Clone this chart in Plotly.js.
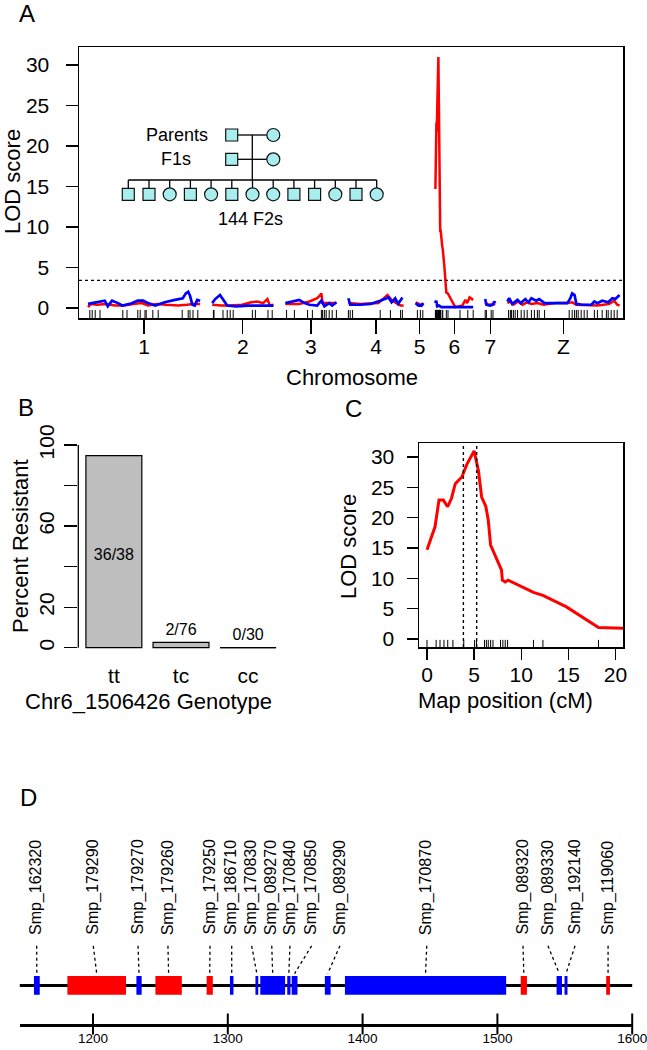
<!DOCTYPE html>
<html><head><meta charset="utf-8">
<script src="https://cdn.plot.ly/plotly-3.0.1.min.js"></script>
<style>html,body{margin:0;padding:0;background:#fff}#chart{width:647px;height:1050px}</style>
</head><body><div id="chart"></div>
<script>
// ---------------- Panel A data ----------------
const chrNames = ['1','2','3','4','5','6','7','Z'];
const chrLengths = [187,102,85,92,13,63,17,187];
const chrGap = 20;
const lodThreshold = 3.4;

const chr1Red = [[0,0.1],[5,0.5],[15,0.4],[30,0.5],[45,0.3],[60,0.3],[75,0.5],[90,0.6],[100,0.3],[115,0.5],[130,0.4],[150,0.3],[165,0.4],[175,0.5],[187,0.5]];
const chr1Blue = [[0,0.5],[7,0.6],[20,0.8],[28,0.9],[33,0.2],[40,0.9],[50,0.6],[57,0.3],[70,0.5],[83,0.9],[92,0.9],[100,0.6],[112,0.3],[128,0.7],[145,1.0],[158,1.2],[163,1.8],[167,2.0],[170,1.5],[174,0.4],[178,0.3],[182,1.0],[187,0.9]];
const chr2Red = [[0,0.4],[15,0.3],[30,0.3],[50,0.4],[65,0.7],[75,0.8],[85,0.6],[92,1.1],[96,0.3],[102,0.4]];
const chr2Blue = [[0,0.6],[5,1.1],[13,1.6],[18,1.0],[25,0.3],[40,0.2],[60,0.3],[80,0.3],[95,0.3],[102,0.3]];
const chr3Red = [[0,0.5],[23,0.5],[40,0.8],[53,1.2],[58,1.6],[60,1.8],[62,0.6],[73,0.6],[85,0.6]];
const chr3Blue = [[0,0.6],[15,0.8],[23,1.0],[32,0.6],[40,0.4],[53,0.3],[60,0.9],[65,0.2],[73,0.6],[78,0.3],[85,0.7]];
const chr4Red = [[0,0.6],[20,0.5],[50,0.6],[65,1.6],[73,0.9],[87,0.3],[92,0.3]];
const chr4Blue = [[0,1.2],[3,0.4],[20,0.4],[37,0.5],[53,0.9],[67,1.3],[72,0.7],[78,1.2],[83,0.5],[90,1.3]];
const chr5Red = [[0,0.7],[8,0.4],[13,0.5]];
const chr5Blue = [[0,0.6],[5,0.3],[10,0.3],[13,0.6]];
const chr6Red = [[0,14.7],[0.85,18.5],[1.27,22.9],[1.73,22.9],[2.19,21.8],[2.6,23.2],[3.0,25.6],[3.7,26.7],[4.2,28.7],[5.0,31.0],[5.45,27.8],[5.8,23.4],[6.25,21.8],[6.5,19.6],[6.75,15.5],[7.4,13.0],[7.9,11.4],[8.0,9.7],[8.3,9.4],[8.6,9.7],[11.3,7.7],[12.3,7.2],[14.8,5.3],[18.2,1.9],[20.75,1.8],[25,1.2],[33,0.1],[45,0.3],[50,1.0],[53,0.6],[57,1.3],[63,1.0]];
const chr6Blue = [[0,0.6],[1,0.9],[2,0.7],[3,0.2],[6,0.3],[10,0.1],[30,0.1],[63,0.1]];
const chr7Red = [[0,0.7],[5,0.4],[17,0.5]];
const chr7Blue = [[0,1.1],[2,0.4],[8,0.3],[13,0.4],[15,0.8],[17,0.6]];
const chrZRed = [[0,0.6],[5,0.8],[10,0.4],[18,0.8],[25,0.4],[33,0.7],[40,0.5],[50,0.6],[60,0.4],[80,0.6],[100,0.6],[108,0.7],[115,0.4],[135,0.3],[150,0.3],[160,0.4],[170,0.5],[178,0.9],[183,0.4],[187,0.3]];
const chrZBlue = [[0,0.8],[3,1.2],[8,0.5],[12,0.7],[17,1.0],[22,0.6],[30,1.1],[35,0.7],[40,1.2],[48,0.9],[53,1.1],[62,0.6],[75,0.6],[100,0.6],[105,1.2],[108,1.8],[112,1.6],[115,0.5],[125,0.4],[140,0.4],[145,0.8],[150,0.6],[158,0.9],[168,0.7],[175,1.2],[180,1.1],[187,1.6]];

const markers1 = [3,7,12,20,58,65,83,87,95,97,108,117,157,167,170,175,183];
const markers2 = [2,3,18,25,30,35,67,72,93,100];
const markers3 = [2,15,37,45,60,62,65,68,73,78,85];
const markers4 = [0,3,7,53,70,87,90];
const markers5 = [3,8,12];
const markers6 = [0,0.97,1.38,1.8,2.2,2.75,3.9,5.05,5.25,6.1,6.3,6.5,6.75,7.0,7.8,8.05,8.3,8.55,11.3,12.3,18.2,21,41,54,63];
const markers7 = [0,2,10,13];
const markersZ = [2,5,7,10,13,17,23,28,33,40,45,50,53,62,103,108,112,115,118,123,128,133,145,150,158,165,168,173,178,183];

const offspringSex = ['m','m','f','m','f','m','f','f','m','m','f','m','f'];

// ---------------- Panel B data ----------------
const genotypes = ['tt','tc','cc'];
const resistantCounts = [36,2,0];
const totalCounts = [38,76,30];

// ---------------- Panel C data ----------------
const ciBounds = [3.86,5.27];

// ---------------- Panel D data ----------------
const geneNames = ['Smp_162320','Smp_179290','Smp_179270','Smp_179260','Smp_179250','Smp_186710','Smp_170830','Smp_089270','Smp_170840','Smp_170850','Smp_089290','Smp_170870','Smp_089320','Smp_089330','Smp_192140','Smp_119060'];
const geneStart = [1156.2,1181.0,1232.2,1246.3,1284.3,1301.6,1320.5,1324.1,1344.1,1347.4,1372.0,1386.9,1517.3,1543.9,1549.8,1580.7];
const geneEnd   = [1160.5,1224.5,1236.1,1265.9,1288.9,1304.2,1322.6,1342.5,1346.5,1351.7,1376.3,1506.5,1521.9,1547.9,1552.0,1583.5];
const geneStrand = ['-','+','-','+','+','-','-','-','-','-','-','-','+','-','-','+'];
const labelKb = [1158.2,1200.2,1233.4,1255.6,1286.8,1302.9,1317.7,1332.6,1346.1,1362.2,1383.2,1447.6,1519.0,1537.5,1557.6,1582.1];
const regionKb = [1145.7,1600];
const kbTicks = [1200,1300,1400,1500,1600];

// ---------------- helpers / layout constants ----------------
const W = 647, H = 1050;
const FONT = 'Liberation Sans, Arial, Helvetica, sans-serif';
const px = p => p / W, py = p => 1 - p / H;
const RED = '#ff0000', BLUE = '#0000ff', CYAN = '#a8eeee';

const chrStart = []; let acc = 0;
chrLengths.forEach(L => { chrStart.push(acc); acc += L + chrGap; });
const chrMid = chrStart.map((s, i) => s + chrLengths[i] / 2);

function genome(list) {
  const x = [], y = [];
  list.forEach((pts, i) => { pts.forEach(([p, l]) => { x.push(chrStart[i] + p); y.push(l); }); x.push(null); y.push(null); });
  return {x, y};
}
const redG = genome([chr1Red,chr2Red,chr3Red,chr4Red,chr5Red,chr6Red,chr7Red,chrZRed]);
const blueG = genome([chr1Blue,chr2Blue,chr3Blue,chr4Blue,chr5Blue,chr6Blue,chr7Blue,chrZBlue]);
const rugX = [];
[markers1,markers2,markers3,markers4,markers5,markers6,markers7,markersZ].forEach((m, i) => m.forEach(p => rugX.push(chrStart[i] + p)));

const traces = [];
traces.push({type:'scatter', mode:'lines', x:redG.x, y:redG.y, xaxis:'x', yaxis:'y', line:{color:RED, width:2.5}, connectgaps:false, hoverinfo:'skip'});
traces.push({type:'scatter', mode:'lines', x:blueG.x, y:blueG.y, xaxis:'x', yaxis:'y', line:{color:BLUE, width:2.7}, connectgaps:false, hoverinfo:'skip'});
traces.push({type:'scatter', mode:'markers', x:rugX, y:rugX.map(() => -0.85), xaxis:'x', yaxis:'y', marker:{symbol:'line-ns-open', size:7, color:'#000', line:{color:'#000', width:1}}, cliponaxis:false, hoverinfo:'skip'});

// Panel B
const pct = resistantCounts.map((c, i) => c / totalCounts[i] * 100);
const gx = genotypes.map((g, i) => i);
traces.push({type:'bar', x:gx, y:pct, width:0.8333, xaxis:'x2', yaxis:'y2', marker:{color:'#bebebe', line:{color:'#000', width:1.2}}, hoverinfo:'skip'});
const zx = [], zy = [];
pct.forEach((v, i) => { if (v === 0) { zx.push(i - 0.4167, i + 0.4167, null); zy.push(0, 0, null); } });
traces.push({type:'scatter', mode:'lines', x:zx, y:zy, xaxis:'x2', yaxis:'y2', line:{color:'#000', width:1.3}, cliponaxis:false, hoverinfo:'skip'});
traces.push({type:'scatter', mode:'text', x:gx, y:pct.map(v => v > 50 ? v / 2 - 2 : v + 5.8),
  text:resistantCounts.map((c, i) => c + '/' + totalCounts[i]), textposition:'middle center',
  textfont:{size:16, color:'#000', family:FONT}, xaxis:'x2', yaxis:'y2', cliponaxis:false, hoverinfo:'skip'});

// Panel C
traces.push({type:'scatter', mode:'lines', x:chr6Red.map(d => d[0]), y:chr6Red.map(d => d[1]), xaxis:'x3', yaxis:'y3', line:{color:RED, width:3}, hoverinfo:'skip'});
const rugC = markers6.filter(m => m <= 20.8);
traces.push({type:'scatter', mode:'markers', x:rugC, y:rugC.map(() => -0.82), xaxis:'x3', yaxis:'y3', marker:{symbol:'line-ns-open', size:6, color:'#000', line:{color:'#000', width:1}}, cliponaxis:false, hoverinfo:'skip'});

// Panel D
const trackY = 0.199, boxH = 0.097, leaderTop = 0.403, leaderBot = 0.26, labelBottom = 0.449;
traces.push({type:'bar', orientation:'h', base:geneStart, x:geneEnd.map((e, i) => e - geneStart[i]), y:geneStart.map(() => trackY), width:boxH,
  xaxis:'x4', yaxis:'y4', marker:{color:geneStrand.map(s => s === '+' ? RED : BLUE), line:{width:0}}, hoverinfo:'skip'});
const lx = [], ly = [];
geneNames.forEach((g, i) => { lx.push(labelKb[i], (geneStart[i] + geneEnd[i]) / 2, null); ly.push(leaderTop, leaderBot, null); });
traces.push({type:'scatter', mode:'lines', x:lx, y:ly, xaxis:'x4', yaxis:'y4', line:{color:'#000', width:1.3, dash:'dot'}, hoverinfo:'skip'});
traces.push({type:'scatter', mode:'markers', x:kbTicks, y:kbTicks.map(() => 0), xaxis:'x4', yaxis:'y4', marker:{symbol:'line-ns-open', size:15, color:'#000', line:{color:'#000', width:2}}, cliponaxis:false, hoverinfo:'skip'});

// ---------------- shapes & annotations ----------------
const shapes = [];
const lineShape = (x0, y0, x1, y1, w) => ({type:'line', xref:'paper', yref:'paper', x0:px(x0), y0:py(y0), x1:px(x1), y1:py(y1), line:{color:'#000', width:w || 1.3}});
const sq = (cx, cy) => ({type:'rect', xref:'paper', yref:'paper', x0:px(cx - 6), x1:px(cx + 6), y0:py(cy + 6), y1:py(cy - 6), fillcolor:CYAN, line:{color:'#111', width:1.2}});
const circ = (cx, cy) => ({type:'circle', xref:'paper', yref:'paper', x0:px(cx - 6.5), x1:px(cx + 6.5), y0:py(cy + 6.5), y1:py(cy - 6.5), fillcolor:CYAN, line:{color:'#111', width:1.2}});
// pedigree
[135, 159.3].forEach(yy => { shapes.push(lineShape(237.7, yy, 266.8, yy)); });
shapes.push(lineShape(252.3, 135, 252.3, 180));
const kidX = offspringSex.map((s, i) => 128.3 + i * 20.7);
shapes.push(lineShape(kidX[0], 180, kidX[kidX.length - 1], 180));
kidX.forEach(x => shapes.push(lineShape(x, 180, x, 188)));
[135, 159.3].forEach(yy => { shapes.push(sq(231.7, yy)); shapes.push(circ(273.3, yy)); });
offspringSex.forEach((s, i) => shapes.push(s === 'm' ? sq(kidX[i], 194.3) : circ(kidX[i], 194.3)));
// threshold
shapes.push({type:'line', xref:'x domain', yref:'y', x0:0, x1:1, y0:lodThreshold, y1:lodThreshold, line:{color:'#000', width:1.2, dash:'dot'}});
// panel B y axis line (0-100)
shapes.push({type:'line', xref:'x2 domain', yref:'y2', x0:0, x1:0, y0:0, y1:100, line:{color:'#000', width:1.3}});
// panel C CI
ciBounds.forEach(c => shapes.push({type:'line', xref:'x3', yref:'y3 domain', x0:c, x1:c, y0:0, y1:1, line:{color:'#000', width:1.4, dash:'dot'}}));
// panel D track line
shapes.push({type:'line', layer:'below', xref:'x4 domain', yref:'y4', x0:0, x1:1, y0:trackY, y1:trackY, line:{color:'#000', width:3}});

const ann = [];
const txt = (t, x, y, size, opts) => Object.assign({text:t, xref:'paper', yref:'paper', x:px(x), y:py(y), showarrow:false, font:{size:size, color:'#000', family:FONT}, xanchor:'center', yanchor:'middle'}, opts || {});
ann.push(txt('A', 27, 14, 24));
ann.push(txt('B', 26, 407, 24));
ann.push(txt('C', 353, 408, 24));
ann.push(txt('D', 28, 797, 24));
ann.push(txt('LOD score', 12, 182, 22, {textangle:-90}));
ann.push(txt('Chromosome', 352, 377, 22));
ann.push(txt('Parents', 210, 135, 18, {xanchor:'right'}));
ann.push(txt('F1s', 193.3, 159.3, 18, {xanchor:'right'}));
ann.push(txt('144 F2s', 250, 219, 18));
ann.push(txt('Percent Resistant', 20, 546, 22, {textangle:-90}));
ann.push(txt('Chr6_1506426 Genotype', 148, 701, 22));
ann.push(txt('LOD score', 348, 547, 22, {textangle:-90}));
ann.push(txt('Map position (cM)', 505, 700, 22));
geneNames.forEach((g, i) => ann.push({text:g, xref:'x4', yref:'y4', x:labelKb[i], y:labelBottom, showarrow:false, textangle:-90,
  xanchor:'center', yanchor:'bottom', font:{size:16, color:'#000', family:FONT}}));

const axBase = {showgrid:false, zeroline:false, linecolor:'#000', tickcolor:'#000', tickfont:{size:21, color:'#000', family:FONT}};
const layout = {
  width:W, height:H, margin:{l:0, r:0, t:0, b:0}, paper_bgcolor:'#fff', plot_bgcolor:'#fff',
  showlegend:false, barmode:'overlay', font:{family:FONT, color:'#000'},
  xaxis: Object.assign({}, axBase, {domain:[px(79), px(623)], range:[-15, 891.7], tickvals:chrMid, ticktext:chrNames, ticks:'outside', ticklen:14, tickwidth:1.3, showline:true, mirror:true, linewidth:1.5, anchor:'y', ticklabelstandoff:-5}),
  yaxis: Object.assign({}, axBase, {domain:[py(318), py(47)], range:[-1.24, 32.24], tickvals:[0,5,10,15,20,25,30], ticks:'outside', ticklen:12, tickwidth:1.3, showline:true, mirror:true, linewidth:1.5, anchor:'x', ticklabelstandoff:12}),
  xaxis2: Object.assign({}, axBase, {domain:[px(78.3), px(283.7)], range:[-0.53, 2.53], tickvals:gx, ticktext:genotypes, ticks:'', showline:false, anchor:'y2', ticklabelstandoff:5}),
  yaxis2: Object.assign({}, axBase, {domain:[py(655.8), py(436.9)], range:[-4, 104], tickvals:[0,20,40,60,80,100], ticktext:['0','20','','60','','100'], tickangle:-90, ticks:'outside', ticklen:13, tickwidth:1.3, showline:false, anchor:'x2', ticklabelstandoff:2}),
  xaxis3: Object.assign({}, axBase, {domain:[px(419), px(623)], range:[-0.85, 20.8], tickvals:[0,5,10,15,20], ticks:'outside', ticklen:11, tickwidth:1.3, showline:true, mirror:true, linewidth:1.5, anchor:'y3', ticklabelstandoff:-3}),
  yaxis3: Object.assign({}, axBase, {domain:[py(647), py(443)], range:[-1.3, 32.3], tickvals:[0,5,10,15,20,25,30], ticks:'outside', ticklen:11, tickwidth:1.3, showline:true, mirror:true, linewidth:1.5, anchor:'x3', ticklabelstandoff:8}),
  xaxis4: Object.assign({}, axBase, {domain:[px(19.8), px(632.2)], range:regionKb, tickvals:kbTicks, ticks:'', showline:true, linewidth:3, anchor:'y4', tickfont:{size:13.5, color:'#000', family:FONT}, ticklabelstandoff:0, ticklabeloverflow:'allow'}),
  yaxis4: {domain:[py(1024), py(830)], range:[0, 1], visible:false, anchor:'x4', showgrid:false, zeroline:false},
  shapes: shapes, annotations: ann
};
Plotly.newPlot('chart', traces, layout, {displayModeBar:false, staticPlot:true});
</script></body></html>
